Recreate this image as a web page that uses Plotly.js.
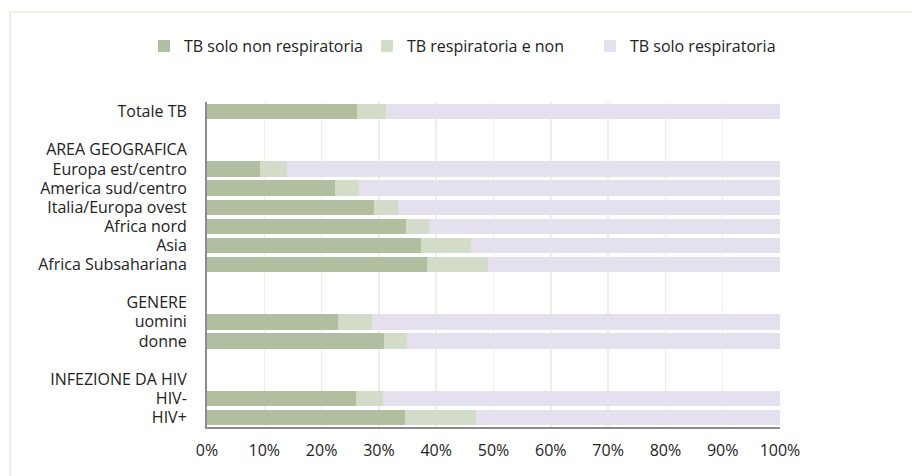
<!DOCTYPE html>
<html>
<head>
<meta charset="utf-8">
<script src="https://cdn.plot.ly/plotly-3.0.1.min.js"></script>
<style>
  html, body { margin: 0; padding: 0; background: #ffffff; }
  #wrap { position: relative; width: 912px; height: 476px; }
  #chart { width: 912px; height: 476px; }
  #frame { position: absolute; left: 9px; top: 11px; width: 920px; height: 480px;
           border-left: 2px solid #efeee0; border-top: 2px solid #efeee0; pointer-events: none; }
</style>
</head>
<body>
<div id="wrap">
  <div id="chart"></div>
  <div id="frame"></div>
</div>
<script>
// Row labels (top to bottom); blank rows use distinct whitespace labels
const categories = [
  "Totale TB", " ", "AREA GEOGRAFICA",
  "Europa est/centro", "America sud/centro", "Italia/Europa ovest",
  "Africa nord", "Asia", "Africa Subsahariana",
  "  ", "GENERE", "uomini", "donne",
  "   ", "INFEZIONE DA HIV", "HIV-", "HIV+"
];
// Percentages (null = header/blank row)
const soloNonResp = [26.2, null, null, 9.2, 22.3, 29.1, 34.7, 37.3, 38.4, null, null, 22.9, 30.9, null, null, 26.0, 34.6];
const respENon    = [5.0,  null, null, 4.8, 4.2,  4.2,  4.0,  8.8,  10.7, null, null, 5.9,  4.0,  null, null, 4.8,  12.3];
const soloResp    = [68.8, null, null, 86.0, 73.5, 66.7, 61.3, 53.9, 50.9, null, null, 71.2, 65.1, null, null, 69.2, 53.1];

const seriesNames = ["TB solo non respiratoria", "TB respiratoria e non", "TB solo respiratoria"];
const tickVals = [0, 10, 20, 30, 40, 50, 60, 70, 80, 90, 100];
const tickText = ["0%", "10%", "20%", "30%", "40%", "50%", "60%", "70%", "80%", "90%", "100%"];

const colors = ["#b1be9f", "#d3dcc9", "#e5e0ed"];
const vals = [soloNonResp, respENon, soloResp];

const traces = vals.map((v, i) => ({
  type: "bar",
  orientation: "h",
  name: seriesNames[i],
  y: categories,
  x: v,
  marker: { color: colors[i], line: { width: 0 } },
  hoverinfo: "name+x"
}));

const font = { family: "Open Sans, sans-serif", size: 16, color: "#222222" };

const layout = {
  width: 912, height: 476,
  paper_bgcolor: "#ffffff",
  plot_bgcolor: "#ffffff",
  font: font,
  barmode: "stack",
  bargap: 0.2,
  margin: { l: 207, r: 132, t: 102, b: 49, pad: 0, autoexpand: false },
  showlegend: true,
  legend: {
    orientation: "h",
    xref: "paper",
    yref: "paper",
    x: -0.11, xanchor: "left",
    y: 1.172, yanchor: "middle",
    font: font,
    traceorder: "normal",
    itemwidth: 30,
    entrywidth: 178
  },
  xaxis: {
    range: [0, 100],
    tickvals: tickVals,
    ticktext: tickText,
    tickangle: 0,
    showgrid: true,
    gridcolor: "#efeee2",
    gridwidth: 1.5,
    zeroline: false,
    showline: true,
    linecolor: "#8c8c8c",
    linewidth: 2,
    ticks: "",
    ticklabelstandoff: 8,
    automargin: false,
    fixedrange: true
  },
  yaxis: {
    type: "category",
    categoryorder: "array",
    categoryarray: categories,
    autorange: "reversed",
    showgrid: false,
    zeroline: false,
    showline: true,
    linecolor: "#8c8c8c",
    linewidth: 2,
    ticks: "",
    ticklabelstandoff: 15,
    automargin: false,
    fixedrange: true
  }
};

Plotly.newPlot("chart", traces, layout, { displayModeBar: false, staticPlot: true });
</script>
</body>
</html>
